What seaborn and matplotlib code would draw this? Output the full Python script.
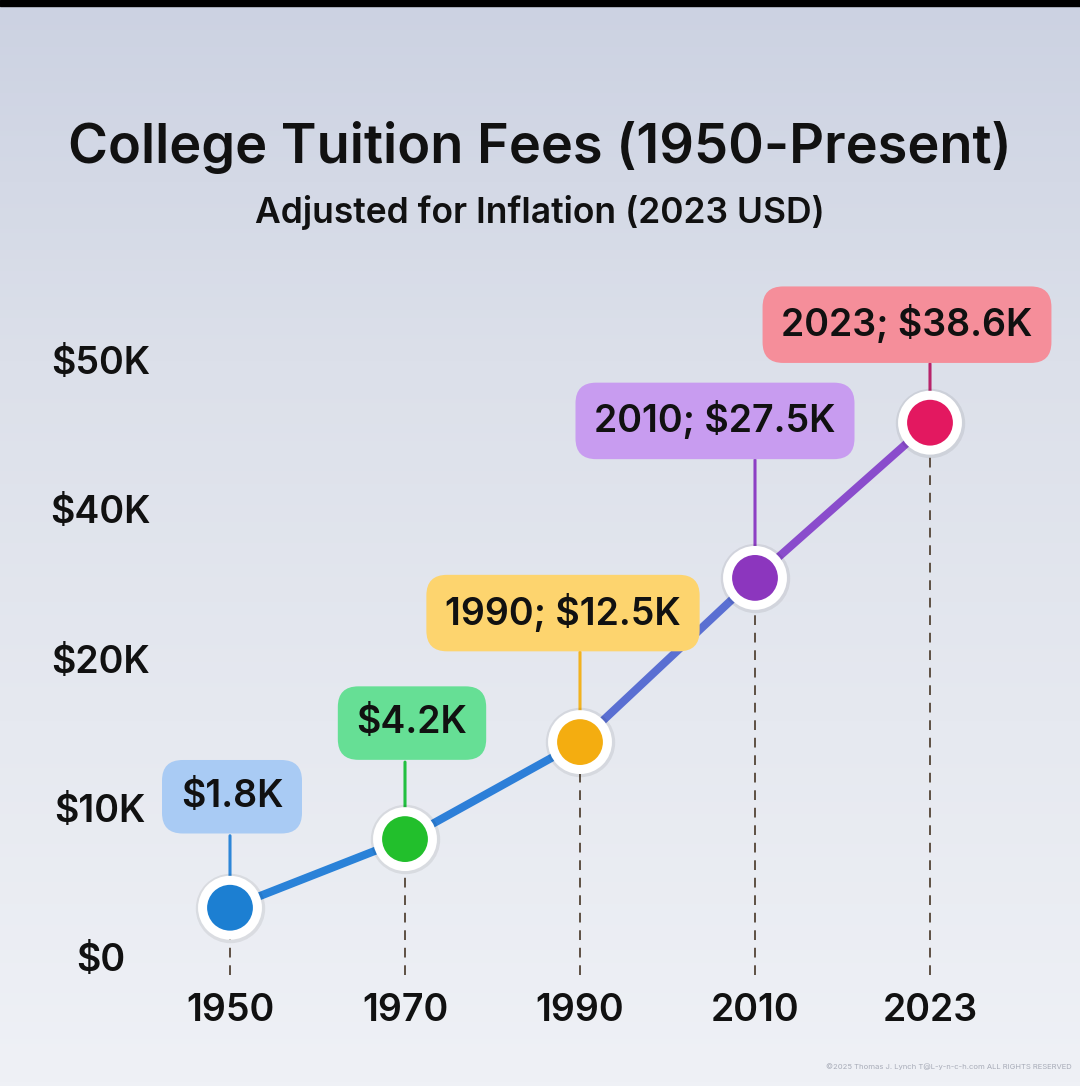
import numpy as np
import pandas as pd
import seaborn as sns
import matplotlib.pyplot as plt
from matplotlib.colors import LinearSegmentedColormap
from matplotlib.patches import Rectangle

# data
years = ['1950', '1970', '1990', '2010', '2023']
label_text = ['$1.8K', '$4.2K', '1990; $12.5K', '2010; $27.5K', '2023; $38.6K']
# marker heights as drawn against the chart's own (uneven) axis, in $K
heights = [3.3, 7.9, 14.4, 30.8, 45.8]
tick_vals = [0, 10, 20, 40, 50]
tick_labels = ['$0', '$10K', '$20K', '$40K', '$50K']

dot_colors = ['#1c7fd2', '#22bf2c', '#f4ad10', '#8c36be', '#e31860']
stem_colors = ['#2d86d8', '#22c040', '#f2b21f', '#8d40c4', '#b8246a']
box_colors = ['#a9cbf4', '#66df95', '#fdd46e', '#c89cf0', '#f58e9a']
seg_colors = ['#2a82d8', '#2d7fd8', '#5a6fd2', '#8a4ccc']
# label offsets (pixels) from each marker
box_dx = [2, 7, -17, -40, -23]
box_dy = [111, 116, 129, 157, 98]

sns.set_theme(style='white')
plt.rcParams['font.family'] = ['Inter', 'DejaVu Sans']

W, H = 1080, 1086
fig = plt.figure(figsize=(W / 100, H / 100), dpi=100)

# background gradient
bg = fig.add_axes([0, 0, 1, 1], zorder=-5)
cmap = LinearSegmentedColormap.from_list('bg', ['#ccd2e2', '#dce0ea', '#e6e9f0', '#eff1f6'])
bg.imshow(np.linspace(0, 1, 256).reshape(-1, 1), aspect='auto', cmap=cmap, extent=[0, 1, 0, 1])
bg.add_patch(Rectangle((0, 1 - 6 / H), 1, 6 / H, color='black'))
bg.set_xlim(0, 1)
bg.set_ylim(0, 1)
bg.axis('off')

# uneven axis: 0,10,20,40,50 sit at equal spacing
def fwd(v):
    v = np.asarray(v, dtype=float)
    return np.where(v <= 20, v / 10, np.where(v <= 40, 2 + (v - 20) / 20, 3 + (v - 40) / 10))

def inv(s):
    s = np.asarray(s, dtype=float)
    return np.where(s <= 2, s * 10, np.where(s <= 3, 20 + (s - 2) * 20, 40 + (s - 3) * 10))

L, R, B, T = 160, 1080, 975, 0
ax = fig.add_axes([L / W, (H - B) / H, (R - L) / W, (B - T) / H])
ax.set_facecolor('none')
ax.set_yscale('function', functions=(fwd, inv))
ax.set_xlim((L - 230) / 175, (R - 230) / 175)
ax.set_ylim(float(inv((957 - B) / 149.25)), float(inv((957 - T) / 149.25)))

pos = np.arange(len(years))
df = pd.DataFrame({'pos': pos, 'value': heights})

# dashed drop lines
ax.vlines(pos, ax.get_ylim()[0], heights, colors='#5e5044', linestyles=(0, (5, 4)), lw=1.4, zorder=1)

# the trend line, segment by segment
for k in range(len(years) - 1):
    sns.lineplot(data=df.iloc[k:k + 2], x='pos', y='value', ax=ax, color=seg_colors[k],
                 lw=5.8, zorder=2, solid_capstyle='round')

# stems from label boxes
for i in range(len(years)):
    ax.annotate('', xy=(pos[i], heights[i]), xytext=(0, box_dy[i] - 39), textcoords='offset pixels',
                xycoords='data', arrowprops=dict(arrowstyle='-', color=stem_colors[i], lw=2.2,
                                                 shrinkA=0, shrinkB=0), zorder=3)

# markers
sns.scatterplot(data=df, x='pos', y='value', ax=ax, s=2500, color='black', alpha=0.07,
                linewidth=0, zorder=4, legend=False)
sns.scatterplot(data=df, x='pos', y='value', ax=ax, s=1560, hue='pos', palette=dot_colors,
                edgecolor='white', linewidth=6.5, zorder=5, legend=False)

# label boxes
for i in range(len(years)):
    ax.annotate(label_text[i], xy=(pos[i], heights[i]), xytext=(box_dx[i], box_dy[i]),
                textcoords='offset pixels', ha='center', va='center', fontsize=27,
                fontweight='semibold', color='#111111', zorder=6,
                bbox=dict(boxstyle='round,pad=0.5,rounding_size=0.55', fc=box_colors[i], ec='none'))

ax.set_xticks(pos, years)
ax.set_yticks(tick_vals, tick_labels)
ax.minorticks_off()
ax.tick_params(axis='x', length=0, pad=13, labelsize=27, labelcolor='#111111')
ax.tick_params(axis='y', length=0, pad=43, labelsize=27, labelcolor='#111111')
for lab in ax.get_yticklabels():
    lab.set_horizontalalignment('center')
    lab.set_fontweight('semibold')
for lab in ax.get_xticklabels():
    lab.set_fontweight('semibold')
ax.set_xlabel('')
ax.set_ylabel('')
sns.despine(ax=ax, left=True, bottom=True)

fig.text(0.5, 1 - 148 / H, 'College Tuition Fees (1950-Present)', ha='center', va='center',
         fontsize=39, fontweight='semibold', color='#111111')
fig.text(0.5, 1 - 213 / H, 'Adjusted for Inflation (2023 USD)', ha='center', va='center',
         fontsize=25.5, fontweight='semibold', color='#111111')
fig.text(1 - 8 / W, 1 - 1067 / H, '\u00a92025 Thomas J. Lynch T@L-y-n-c-h.com ALL RIGHTS RESERVED',
         ha='right', va='center', fontsize=5.5, color='#a8acb8')

fig.savefig('out.png', dpi=100)
